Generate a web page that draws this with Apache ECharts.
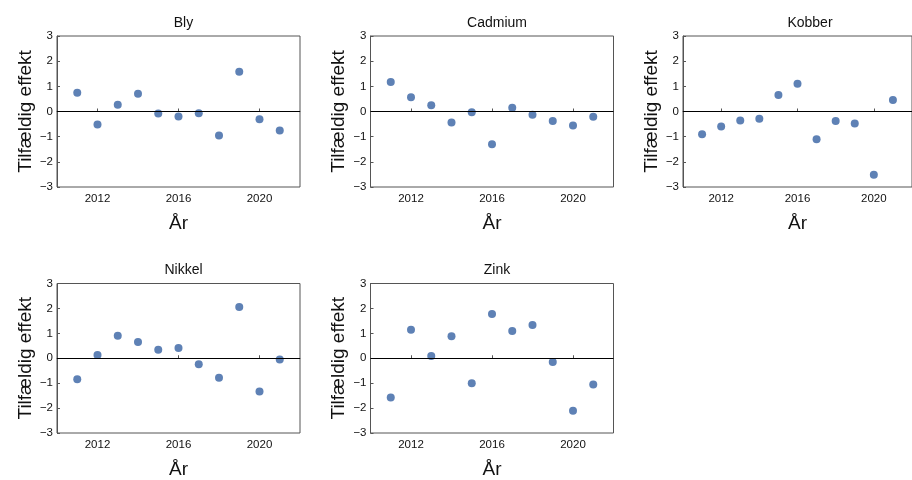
<!DOCTYPE html>
<html>
<head>
<meta charset="utf-8">
<script src="https://cdn.jsdelivr.net/npm/echarts@6/dist/echarts.min.js"></script>
<style>html,body{margin:0;padding:0;background:#fff}#c{width:912px;height:480px}</style>
</head>
<body>
<div id="c"></div>
<script>
const years = [2011, 2012, 2013, 2014, 2015, 2016, 2017, 2018, 2019, 2020, 2021];
const panelTitles = ["Bly", "Cadmium", "Kobber", "Nikkel", "Zink"];
const bly     = [0.75, -0.52, 0.27, 0.71, -0.08, -0.20, -0.07, -0.95, 1.58, -0.31, -0.75];
const cadmium = [1.17, 0.57, 0.25, -0.44, -0.03, -1.30, 0.15, -0.13, -0.38, -0.56, -0.21];
const kobber  = [-0.90, -0.60, -0.36, -0.29, 0.66, 1.10, -1.10, -0.38, -0.48, -2.51, 0.46];
const nikkel  = [-0.84, 0.13, 0.90, 0.65, 0.34, 0.41, -0.24, -0.78, 2.06, -1.33, -0.05];
const zink    = [-1.58, 1.14, 0.09, 0.88, -1.00, 1.78, 1.09, 1.33, -0.15, -2.11, -1.05];
const xTickLabels = [2012, 2016, 2020];
const yTicks = [-3, -2, -1, 0, 1, 2, 3];
const xName = "År";
const yName = "Tilfældig effekt";

const seriesData = [bly, cadmium, kobber, nikkel, zink];
const font = "'Liberation Sans', Arial, sans-serif";
const grids = [
  {left: 57, top: 36, width: 243, height: 151},
  {left: 370.5, top: 36, width: 243, height: 151},
  {left: 683, top: 36, width: 244, height: 151},
  {left: 57, top: 283.5, width: 243, height: 151.5},
  {left: 370.5, top: 283.5, width: 243, height: 151.5}
];
const frame = '#555';
const option = {
  animation: false,
  backgroundColor: '#fff',
  title: panelTitles.map((t, i) => ({
    text: t,
    left: grids[i].left + grids[i].width / 2,
    top: grids[i].top - 25,
    textAlign: 'center',
    textStyle: {fontFamily: font, fontSize: 14, fontWeight: 'normal', color: '#111'}
  })),
  grid: grids.map(g => Object.assign({show: true, borderColor: frame, borderWidth: 1, backgroundColor: 'transparent'}, g)),
  xAxis: grids.map((g, i) => ({
    type: 'value', gridIndex: i, min: 2010, max: 2022,
    name: xName, nameLocation: 'middle', nameGap: 27,
    nameTextStyle: {fontFamily: font, fontSize: 19, color: '#111'},
    axisLine: {show: true, lineStyle: {color: frame, width: 1}},
    axisTick: {show: true, inside: true, length: 3, customValues: xTickLabels, lineStyle: {color: frame}},
    axisLabel: {customValues: xTickLabels, fontFamily: font, fontSize: 11.5, color: '#111', margin: 6,
      formatter: v => String(v)},
    splitLine: {show: false}
  })),
  yAxis: grids.map((g, i) => ({
    type: 'value', gridIndex: i, min: -3, max: 3, interval: 1,
    name: yName, nameLocation: 'middle', nameGap: 22,
    nameTextStyle: {fontFamily: font, fontSize: 19, color: '#111'},
    axisLine: {show: true, onZero: false, lineStyle: {color: frame, width: 1}},
    axisTick: {show: true, inside: true, length: 3, customValues: yTicks, lineStyle: {color: frame}},
    axisLabel: {customValues: yTicks, fontFamily: font, fontSize: 11.5, color: '#111', margin: 4,
      formatter: v => String(v).replace('-', '\u2212')},
    splitLine: {show: false}
  })),
  series: seriesData.map((d, i) => ({
    type: 'scatter', xAxisIndex: i, yAxisIndex: i,
    data: years.map((y, k) => [y, d[k]]),
    symbolSize: 8,
    itemStyle: {color: '#5E81B5', opacity: 1},
    markLine: {
      silent: true, symbol: 'none', label: {show: false},
      lineStyle: {color: '#000', width: 1, type: 'solid'},
      data: [{yAxis: 0}]
    }
  }))
};
echarts.init(document.getElementById('c'), null, {renderer: 'canvas'}).setOption(option);
</script>
</body>
</html>
